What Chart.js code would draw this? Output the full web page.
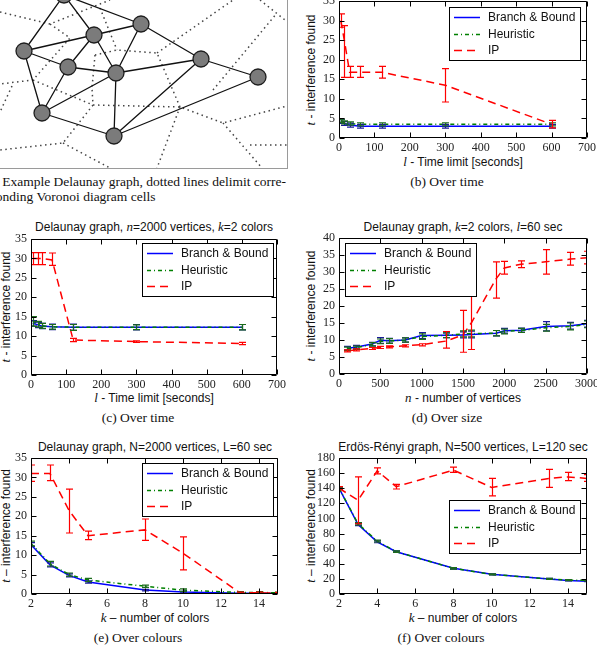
<!DOCTYPE html>
<html>
<head>
<meta charset="utf-8">
<script src="https://cdn.jsdelivr.net/npm/chart.js@4.4.0/dist/chart.umd.min.js"></script>
<style>
html, body { margin: 0; padding: 0; background: #fff; }
body { width: 597px; height: 649px; position: relative; overflow: hidden; }
canvas { position: absolute; }
.t { position: absolute; white-space: nowrap; font-family: "Liberation Sans", Arial, sans-serif; font-size: 12px; color: #111; transform: translate(-50%, -50%); }
.m { font-family: "Liberation Serif", "Times New Roman", serif; font-style: italic; font-size: 13px; }
.yl { transform: translate(-50%, -50%) rotate(-90deg); }
.cap { position: absolute; white-space: nowrap; font-family: "Liberation Serif", "Times New Roman", serif; font-size: 13.5px; color: #111; transform: translate(-50%, -50%); }
#abox { position: absolute; left: -10px; top: -10px; width: 298px; height: 179px; box-sizing: border-box; border: 1.5px solid #9a9a9a; }
.acap { position: absolute; font-family: "Liberation Serif", "Times New Roman", serif; font-size: 13.5px; color: #111; white-space: nowrap; }
</style>
</head>
<body>
<div id="abox"></div>

<div class="acap" id="acap1" style="top:174px;right:311px;">(a) Example Delaunay graph, dotted lines delimit corre-</div>
<div class="acap" id="acap2" style="top:189px;left:-12px;">sponding Voronoi diagram cells</div>

<div class="t yl" style="left:311px;top:70px;"><span class="m">t</span> - interference found</div>
<div class="t" style="left:463px;top:162px;"><span class="m">l</span> - Time limit [seconds]</div>
<div class="cap" style="left:447px;top:182px;">(b) Over time</div>

<div class="t" style="left:154px;top:227px;">Delaunay graph, <span class="m">n</span>=2000 vertices, <span class="m">k</span>=2 colors</div>
<div class="t yl" style="left:6px;top:307px;"><span class="m">t</span> - interference found</div>
<div class="t" style="left:154px;top:398px;"><span class="m">l</span> - Time limit [seconds]</div>
<div class="cap" style="left:138px;top:418px;">(c) Over time</div>

<div class="t" style="left:463px;top:227px;">Delaunay graph, <span class="m">k</span>=2 colors, <span class="m">l</span>=60 sec</div>
<div class="t yl" style="left:311px;top:306px;"><span class="m">t</span> - interference found</div>
<div class="t" style="left:463px;top:398px;"><span class="m">n</span> - number of vertices</div>
<div class="cap" style="left:447px;top:418px;">(d) Over size</div>

<div class="t" style="left:155px;top:447px;">Delaunay graph, N=2000 vertices, L=60 sec</div>
<div class="t yl" style="left:6px;top:526px;"><span class="m">t</span> – interference found</div>
<div class="t" style="left:155px;top:618px;"><span class="m">k</span> – number of colors</div>
<div class="cap" style="left:138px;top:638px;">(e) Over colours</div>

<div class="t" style="left:463px;top:447px;">Erdös-Rényi graph, N=500 vertices, L=120 sec</div>
<div class="t yl" style="left:311px;top:526px;"><span class="m">t</span> – interference found</div>
<div class="t" style="left:463px;top:618px;"><span class="m">k</span> – number of colors</div>
<div class="cap" style="left:441px;top:638px;">(f) Over colours</div>

<script>
// ---- (a) example graph: node positions, edges, voronoi borders ----
const nodeX = [64, 141, 94, 24, 68, 116, 201, 258, 42, 114];
const nodeY = [-5, 24, 35, 51, 67, 73, 59, 77, 113, 136];
const edges = [[0,3],[0,2],[0,1],[1,2],[1,5],[1,6],[2,3],[2,4],[2,5],[3,4],[3,8],
               [4,5],[4,8],[5,8],[5,6],[5,9],[6,7],[6,9],[7,9],[8,9]];
const voroLines = [
  [[0,12],[50,24],[110,0]],
  [[50,24],[70,38],[33,80],[0,84]],
  [[12,86],[0,112]],
  [[33,80],[93,105],[180,107],[223,123],[287,106]],
  [[223,123],[262,168]],
  [[250,145],[287,145]],
  [[93,105],[63,143],[0,150]],
  [[63,143],[110,168]],
  [[180,107],[157,168]],
  [[180,107],[157,53],[117,50],[95,55]],
  [[100,8],[117,50]],
  [[95,55],[92,88],[93,105]],
  [[157,53],[233,0]],
  [[260,0],[285,20]],
  [[213,90],[277,13]]
];

// ---- (b) over time ----
const timeB = [5, 15, 30, 60, 120, 300, 600];
const bbB = [4.2, 3.7, 3.3, 3.0, 3.0, 3.0, 3.0];
const bbBLo = [3.7, 3.2, 2.8, 2.5, 2.5, 2.5, 2.5];
const bbBHi = [4.7, 4.2, 3.8, 3.5, 3.5, 3.5, 3.5];
const heurB = [4.4, 4.0, 3.7, 3.5, 3.5, 3.5, 3.5];
const heurBLo = [4.0, 3.6, 3.3, 3.1, 3.1, 3.1, 3.1];
const heurBHi = [4.8, 4.4, 4.1, 3.9, 3.9, 3.9, 3.9];
const ipB = [30.0, 25.0, 16.8, 16.8, 16.8, 13.5, 3.5];
const ipBLo = [28.3, 15.5, 15.5, 15.5, 15.3, 9.2, 2.6];
const ipBHi = [31.7, 28.7, 18.3, 18.3, 18.3, 17.7, 4.5];

// ---- (c) over time, n=2000 ----
const timeC = [5, 20, 30, 60, 120, 300, 600];
const bbC = [13.3, 12.9, 12.6, 12.4, 12.3, 12.3, 12.3];
const bbCLo = [12.6, 12.2, 11.9, 11.7, 11.5, 11.6, 11.6];
const bbCHi = [14.0, 13.6, 13.3, 13.1, 13.1, 13.0, 13.0];
const heurC = [13.9, 13.1, 12.7, 12.4, 12.3, 12.3, 12.3];
const heurCLo = [12.6, 12.4, 12.0, 11.8, 11.5, 11.7, 11.6];
const heurCHi = [15.0, 13.8, 13.3, 13.0, 13.0, 12.9, 13.0];
const ipC = [30.0, 30.0, 30.0, 29.6, 9.0, 8.6, 8.1];
const ipCLo = [28.4, 28.4, 28.4, 28.2, 8.6, 8.4, 7.8];
const ipCHi = [31.5, 31.5, 31.5, 31.4, 9.4, 8.8, 8.4];

// ---- (d) over size ----
const sizeD = [100, 200, 400, 500, 600, 800, 1000, 1300, 1500, 1600, 1900, 2000, 2200, 2500, 2800, 3000];
const bbD = [7.6, 7.9, 8.8, 9.9, 9.8, 10.0, 11.3, 11.4, 11.5, 11.6, 12.0, 12.7, 12.9, 14.0, 14.2, 14.8];
const bbDLo = [7.1, 7.4, 8.3, 9.0, 9.1, 9.4, 10.4, 10.7, 10.6, 10.6, 11.2, 12.0, 12.3, 12.7, 13.2, 13.8];
const bbDHi = [8.1, 8.4, 9.3, 10.7, 10.5, 10.6, 12.2, 12.1, 12.4, 12.6, 12.8, 13.4, 13.5, 15.4, 15.2, 15.8];
const heurD = [7.4, 7.7, 8.7, 9.6, 9.7, 10.0, 11.0, 11.4, 11.8, 11.9, 12.0, 12.5, 12.8, 13.6, 14.0, 14.6];
const heurDLo = [6.9, 7.2, 8.2, 8.9, 9.0, 9.4, 10.2, 10.7, 10.9, 10.9, 11.2, 11.8, 12.2, 12.6, 13.0, 13.6];
const heurDHi = [7.9, 8.2, 9.2, 10.3, 10.4, 10.6, 11.8, 12.1, 12.7, 12.9, 12.8, 13.2, 13.4, 14.6, 15.0, 15.6];
const ipD = [6.8, 7.1, 7.5, 7.8, 8.0, 8.3, 8.6, 9.7, 11.5, 15.0, 28.0, 31.2, 32.3, 33.0, 33.8, 34.2];
const ipDLo = [6.5, 6.8, 7.2, 7.5, 7.7, 8.0, 8.3, 7.6, 6.4, 7.2, 22.3, 29.4, 31.3, 29.4, 32.0, 32.4];
const ipDHi = [7.1, 7.4, 7.8, 8.1, 8.3, 8.6, 8.9, 12.5, 18.7, 31.0, 33.0, 33.1, 33.3, 36.6, 35.8, 36.1];

// ---- (e) over colours, Delaunay ----
const kE = [2, 3, 4, 5, 8, 10, 13, 14, 15];
const bbE = [12.7, 7.5, 4.8, 3.1, 1.0, 0.5, 0.2, 0.2, 0.2];
const bbELo = [12.2, 7.0, 4.4, 2.8, 0.8, 0.3, 0.1, 0.1, 0.1];
const bbEHi = [13.2, 8.0, 5.2, 3.4, 1.2, 0.7, 0.3, 0.3, 0.3];
const heurE = [13.0, 7.8, 5.0, 3.6, 2.0, 1.0, 0.4, 0.4, 0.3];
const heurELo = [12.4, 7.2, 4.6, 3.2, 1.7, 0.7, 0.2, 0.2, 0.1];
const heurEHi = [13.6, 8.4, 5.4, 4.0, 2.3, 1.3, 0.6, 0.6, 0.5];
const ipE = [31.0, 31.0, 21.5, 15.0, 16.5, 10.5, 0.3, 0.3, 0.2];
const ipELo = [29.0, 29.2, 15.7, 14.0, 13.8, 6.2, 0.1, 0.1, 0.1];
const ipEHi = [33.2, 33.2, 27.0, 16.2, 19.3, 14.7, 0.5, 0.5, 0.4];

// ---- (f) over colours, Erdos-Renyi ----
const kF = [2, 3, 4, 5, 8, 10, 13, 14, 15];
const bbF = [140, 92, 69, 56, 34, 26, 20, 18, 17];
const bbFLo = [138.5, 90.5, 67.8, 55, 33, 25.2, 19.3, 17.3, 16.3];
const bbFHi = [141.5, 93.5, 70.2, 57, 35, 26.8, 20.7, 18.7, 17.7];
const heurF = [140, 93, 70, 56, 34, 26, 20, 18.5, 18];
const heurFLo = [138.5, 91.5, 68.8, 55, 33, 25.2, 19.3, 17.8, 17.3];
const heurFHi = [141.5, 94.5, 71.2, 57, 35, 26.8, 20.7, 19.2, 18.7];
const ipF = [140, 124, 163, 142, 164, 141, 153, 155, 153];
const ipFLo = [138, 93, 159, 139, 161, 130, 141, 150, 149];
const ipFHi = [142, 155, 167, 145, 168, 153, 165, 161, 158];

const seriesNames = ['Branch & Bound', 'Heuristic', 'IP'];

Chart.defaults.font.family = '"Liberation Serif", "Times New Roman", serif';
Chart.defaults.font.size = 12;
Chart.defaults.color = '#222';

// second caption line of (a) starts where the first one starts
document.getElementById('acap2').style.left = document.getElementById('acap1').getBoundingClientRect().left + 'px';

// frame with inward ticks on all four sides, matplotlib style
const frameTicks = {
  id: 'frameTicks',
  afterDraw(chart) {
    const { ctx, chartArea: a, scales } = chart;
    const L = Math.round(a.left) + 0.5, R = Math.round(a.right) - 0.5;
    const T = Math.round(a.top) + 0.5, B = Math.round(a.bottom) - 0.5;
    ctx.save();
    ctx.strokeStyle = '#000';
    ctx.lineWidth = 1;
    ctx.beginPath();
    ctx.rect(L, T, R - L, B - T);
    scales.x.ticks.forEach(t => {
      const p = Math.round(scales.x.getPixelForValue(t.value)) + 0.5;
      ctx.moveTo(p, B); ctx.lineTo(p, B - 5);
      ctx.moveTo(p, T); ctx.lineTo(p, T + 5);
    });
    scales.y.ticks.forEach(t => {
      const p = Math.round(scales.y.getPixelForValue(t.value)) + 0.5;
      ctx.moveTo(L, p); ctx.lineTo(L + 5, p);
      ctx.moveTo(R, p); ctx.lineTo(R - 5, p);
    });
    ctx.stroke();
    ctx.restore();
  }
};

const errorBars = {
  id: 'errorBars',
  afterDatasetsDraw(chart) {
    const { ctx, chartArea: a, scales } = chart;
    ctx.save();
    ctx.beginPath();
    ctx.rect(a.left, a.top, a.right - a.left, a.bottom - a.top);
    ctx.clip();
    chart.data.datasets.forEach(ds => {
      if (!ds.errLo) return;
      ctx.strokeStyle = ds.errColor;
      ctx.lineWidth = 1.2;
      ctx.setLineDash([]);
      ctx.beginPath();
      ds.data.forEach((pt, i) => {
        const x = Math.round(scales.x.getPixelForValue(pt.x)) + 0.5;
        const y1 = scales.y.getPixelForValue(ds.errLo[i]);
        const y2 = scales.y.getPixelForValue(ds.errHi[i]);
        ctx.moveTo(x, y1); ctx.lineTo(x, y2);
        ctx.moveTo(x - 3.5, y1); ctx.lineTo(x + 3.5, y1);
        ctx.moveTo(x - 3.5, y2); ctx.lineTo(x + 3.5, y2);
      });
      ctx.stroke();
    });
    ctx.restore();
  }
};

const boxLegend = {
  id: 'boxLegend',
  afterDraw(chart, args, opts) {
    if (!opts || !opts.w) return;
    const { ctx, chartArea: a } = chart;
    const x = Math.round(opts.side === 'left' ? a.left + opts.dx : a.right - opts.dx - opts.w);
    const y = Math.round(a.top + opts.dy);
    ctx.save();
    ctx.fillStyle = '#fff';
    ctx.fillRect(x, y, opts.w, opts.h);
    ctx.strokeStyle = '#000';
    ctx.lineWidth = 1;
    ctx.strokeRect(x + 0.5, y + 0.5, opts.w, opts.h);
    ctx.font = '12px "Liberation Sans", Arial, sans-serif';
    ctx.textBaseline = 'middle';
    chart.data.datasets.forEach((ds, i) => {
      const ry = Math.round(y + 10 + i * 16.5) + 0.5;
      ctx.strokeStyle = ds.borderColor;
      ctx.lineWidth = ds.borderWidth;
      ctx.setLineDash(ds.borderDash || []);
      ctx.beginPath();
      ctx.moveTo(x + 5, ry);
      ctx.lineTo(x + 31, ry);
      ctx.stroke();
      ctx.setLineDash([]);
      ctx.fillStyle = '#111';
      ctx.fillText(ds.label, x + 39, ry);
    });
    ctx.restore();
  }
};

function series(xs, bb, bbLo, bbHi, he, heLo, heHi, ip, ipLo, ipHi) {
  const pts = ys => xs.map((x, i) => ({ x: x, y: ys[i] }));
  return [
    { label: seriesNames[0], data: pts(bb), errLo: bbLo, errHi: bbHi, borderColor: '#0000ff', errColor: '#1a1a9a',
      borderWidth: 1.5, pointRadius: 0, order: 3 },
    { label: seriesNames[1], data: pts(he), errLo: heLo, errHi: heHi, borderColor: '#008000', errColor: '#1c6b1c',
      borderWidth: 1.5, borderDash: [4, 3, 1, 3], pointRadius: 0, order: 2 },
    { label: seriesNames[2], data: pts(ip), errLo: ipLo, errHi: ipHi, borderColor: '#ff0000', errColor: '#ff0000',
      borderWidth: 1.5, borderDash: [8, 5], pointRadius: 0, order: 1 }
  ];
}

function makePanel(rect, xOpt, yOpt, datasets, legendPos) {
  const ML = 31, MT = 8, MB = 22;
  const left = rect.l - ML, top = rect.t - MT;
  const right = Math.min(597, rect.r + 10);
  const cv = document.createElement('canvas');
  cv.width = right - left;
  cv.height = rect.b + MB - top;
  cv.style.left = left + 'px';
  cv.style.top = top + 'px';
  document.body.appendChild(cv);
  new Chart(cv, {
    type: 'line',
    data: { datasets: datasets },
    options: {
      responsive: false,
      animation: false,
      layout: { autoPadding: false, padding: { top: MT, right: right - rect.r, left: 0, bottom: 0 } },
      scales: {
        x: {
          type: 'linear', min: xOpt.min, max: xOpt.max,
          grid: { display: false, drawTicks: false }, border: { display: false },
          ticks: { stepSize: xOpt.step, padding: 3, maxRotation: 0, includeBounds: false, autoSkip: false,
                   callback: v => String(v) },
          afterFit(s) { s.height = MB; s.paddingLeft = 0; s.paddingRight = 0; }
        },
        y: {
          type: 'linear', min: yOpt.min, max: yOpt.max,
          grid: { display: false, drawTicks: false }, border: { display: false },
          ticks: { stepSize: yOpt.step, padding: 4, includeBounds: false, autoSkip: false,
                   callback: v => String(v) },
          afterFit(s) { s.width = ML; s.paddingTop = 0; s.paddingBottom = 0; }
        }
      },
      elements: { line: { tension: 0, fill: false } },
      plugins: { legend: { display: false }, tooltip: { enabled: false }, boxLegend: legendPos }
    },
    plugins: [frameTicks, errorBars, boxLegend]
  });
}

// (a) graph drawing
(function () {
  const cv = document.createElement('canvas');
  cv.width = 287; cv.height = 168;
  cv.style.left = '0px'; cv.style.top = '0px';
  document.body.appendChild(cv);
  const toPts = lines => {
    const out = [];
    lines.forEach(l => { l.forEach(p => out.push({ x: p[0], y: p[1] })); out.push({ x: null, y: null }); });
    return out;
  };
  const edgeLines = edges.map(([i, j]) => [[nodeX[i], nodeY[i]], [nodeX[j], nodeY[j]]]);
  new Chart(cv, {
    type: 'scatter',
    data: {
      datasets: [
        { data: nodeX.map((x, i) => ({ x: x, y: nodeY[i] })), pointRadius: 8, pointBackgroundColor: '#7b7b7b',
          pointBorderColor: '#1e1e1e', pointBorderWidth: 1.3, clip: false, order: 1 },
        { data: toPts(edgeLines), showLine: true, borderColor: '#111', borderWidth: 1.3, pointRadius: 0, spanGaps: false, clip: false, order: 2 },
        { data: toPts(voroLines), showLine: true, borderColor: '#444', borderWidth: 1.5, borderDash: [1.5, 3.5], pointRadius: 0, spanGaps: false, clip: false, order: 3 }
      ]
    },
    options: {
      responsive: false, animation: false,
      layout: { autoPadding: false, padding: 0 },
      scales: {
        x: { type: 'linear', min: 0, max: 287, display: false },
        y: { type: 'linear', min: 0, max: 168, reverse: true, display: false }
      },
      plugins: { legend: { display: false }, tooltip: { enabled: false } }
    }
  });
})();

const legendUR = { w: 131, h: 53 };

makePanel({ l: 339, t: 1, r: 587, b: 138 }, { min: 0, max: 700, step: 100 }, { min: 0, max: 35, step: 5 },
  series(timeB, bbB, bbBLo, bbBHi, heurB, heurBLo, heurBHi, ipB, ipBLo, ipBHi),
  Object.assign({ side: 'right', dx: 7, dy: 6 }, legendUR));

makePanel({ l: 31, t: 239, r: 277, b: 375 }, { min: 0, max: 700, step: 100 }, { min: 0, max: 35, step: 5 },
  series(timeC, bbC, bbCLo, bbCHi, heurC, heurCLo, heurCHi, ipC, ipCLo, ipCHi),
  Object.assign({ side: 'right', dx: 4, dy: 4 }, legendUR));

makePanel({ l: 339, t: 238, r: 587, b: 374 }, { min: 0, max: 3000, step: 500 }, { min: 0, max: 40, step: 5 },
  series(sizeD, bbD, bbDLo, bbDHi, heurD, heurDLo, heurDHi, ipD, ipDLo, ipDHi),
  Object.assign({ side: 'left', dx: 6, dy: 5 }, legendUR));

makePanel({ l: 31, t: 458, r: 278, b: 594 }, { min: 2, max: 15, step: 2 }, { min: 0, max: 35, step: 5 },
  series(kE, bbE, bbELo, bbEHi, heurE, heurELo, heurEHi, ipE, ipELo, ipEHi),
  Object.assign({ side: 'right', dx: 5, dy: 5 }, legendUR));

makePanel({ l: 339, t: 458, r: 587, b: 594 }, { min: 2, max: 15, step: 2 }, { min: 0, max: 180, step: 20 },
  series(kF, bbF, bbFLo, bbFHi, heurF, heurFLo, heurFHi, ipF, ipFLo, ipFHi),
  Object.assign({ side: 'right', dx: 7, dy: 42 }, legendUR));
</script>
</body>
</html>
